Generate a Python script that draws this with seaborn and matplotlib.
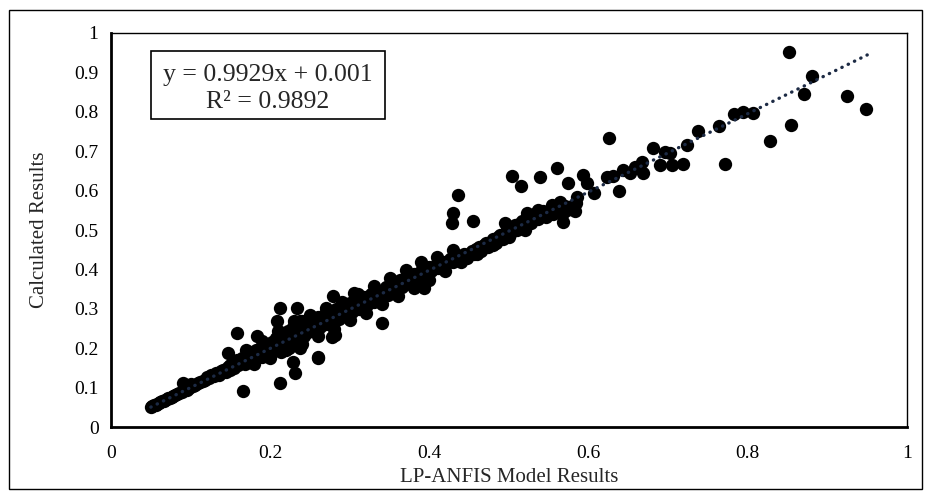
import matplotlib
matplotlib.use("Agg")
import matplotlib.pyplot as plt
import seaborn as sns
import pandas as pd
import numpy as np
from matplotlib.patches import Rectangle

# ---- data ----
x_low = [0.050, 0.052, 0.054, 0.056, 0.058, 0.060, 0.062, 0.064, 0.066, 0.068,
         0.070, 0.072, 0.074, 0.076, 0.078, 0.080, 0.083, 0.086, 0.089, 0.090,
         0.092, 0.095, 0.098, 0.100, 0.103, 0.106, 0.109, 0.112, 0.115, 0.118,
         0.120, 0.123, 0.126, 0.129, 0.132, 0.135, 0.138, 0.141, 0.144, 0.147,
         0.150, 0.150, 0.147]
y_low = [0.052, 0.053, 0.055, 0.057, 0.059, 0.061, 0.063, 0.065, 0.067, 0.069,
         0.071, 0.073, 0.075, 0.077, 0.079, 0.082, 0.084, 0.087, 0.090, 0.113,
         0.093, 0.095, 0.100, 0.108, 0.104, 0.107, 0.111, 0.115, 0.117, 0.120,
         0.128, 0.125, 0.131, 0.130, 0.136, 0.133, 0.141, 0.146, 0.140, 0.152,
         0.158, 0.145, 0.187]

x_mid = [0.153, 0.155, 0.158, 0.160, 0.163, 0.165, 0.168, 0.170, 0.172, 0.175,
         0.178, 0.180, 0.182, 0.185, 0.188, 0.190, 0.192, 0.195, 0.197, 0.200,
         0.202, 0.205, 0.207, 0.210, 0.212, 0.214, 0.216, 0.218, 0.220, 0.222,
         0.224, 0.226, 0.228, 0.230, 0.232, 0.234, 0.236, 0.238, 0.240, 0.242,
         0.244, 0.246, 0.248, 0.250, 0.252, 0.255, 0.258, 0.260, 0.262, 0.265,
         0.268, 0.270, 0.273, 0.276, 0.278, 0.280, 0.283, 0.286, 0.288, 0.291,
         0.294, 0.297, 0.300, 0.303, 0.306, 0.309, 0.312, 0.315, 0.318, 0.321,
         0.324, 0.327, 0.330, 0.333, 0.336, 0.339, 0.342, 0.345, 0.348, 0.351,
         0.354, 0.357, 0.360, 0.363, 0.366, 0.369, 0.372, 0.375, 0.378, 0.381,
         0.384, 0.387, 0.390, 0.393, 0.396, 0.399, 0.402, 0.405, 0.408, 0.411,
         0.414, 0.417, 0.420, 0.423, 0.426, 0.429, 0.432, 0.435, 0.438, 0.441,
         0.444, 0.447, 0.450, 0.453, 0.456, 0.459, 0.462, 0.465, 0.468, 0.471,
         0.474, 0.477, 0.480, 0.483, 0.486, 0.489, 0.492, 0.495, 0.498, 0.501,
         0.504, 0.507, 0.510, 0.513, 0.516, 0.519, 0.522, 0.525, 0.528, 0.531,
         0.534, 0.537, 0.540, 0.543, 0.546, 0.549, 0.552, 0.555, 0.558, 0.561,
         0.564, 0.567, 0.570, 0.573, 0.576, 0.579, 0.583]
y_mid = [0.160, 0.150, 0.170, 0.158, 0.165, 0.175, 0.160, 0.180, 0.168, 0.190,
         0.176, 0.170, 0.195, 0.184, 0.200, 0.178, 0.190, 0.210, 0.186, 0.200,
         0.215, 0.195, 0.225, 0.205, 0.240, 0.190, 0.220, 0.230, 0.210, 0.245,
         0.200, 0.228, 0.255, 0.218, 0.236, 0.260, 0.225, 0.245, 0.270, 0.232,
         0.250, 0.262, 0.240, 0.255, 0.275, 0.248, 0.265, 0.280, 0.255, 0.270,
         0.285, 0.262, 0.278, 0.292, 0.268, 0.285, 0.300, 0.275, 0.290, 0.305,
         0.283, 0.298, 0.315, 0.292, 0.306, 0.322, 0.300, 0.315, 0.330, 0.310,
         0.322, 0.338, 0.318, 0.332, 0.346, 0.326, 0.340, 0.355, 0.335, 0.350,
         0.362, 0.345, 0.358, 0.372, 0.355, 0.366, 0.380, 0.362, 0.375, 0.388,
         0.372, 0.384, 0.395, 0.382, 0.392, 0.405, 0.395, 0.402, 0.412, 0.404,
         0.414, 0.420, 0.412, 0.420, 0.426, 0.418, 0.425, 0.430, 0.423, 0.432,
         0.438, 0.430, 0.440, 0.448, 0.440, 0.452, 0.458, 0.448, 0.462, 0.468,
         0.458, 0.470, 0.478, 0.468, 0.482, 0.488, 0.476, 0.492, 0.500, 0.490,
         0.505, 0.512, 0.500, 0.515, 0.522, 0.510, 0.525, 0.532, 0.518, 0.535,
         0.542, 0.528, 0.540, 0.548, 0.533, 0.545, 0.552, 0.540, 0.550, 0.558,
         0.546, 0.555, 0.562, 0.550, 0.555, 0.560, 0.548]

x_wide = [0.17, 0.19, 0.21, 0.23, 0.25, 0.27, 0.29, 0.31, 0.33, 0.35, 0.37,
          0.39, 0.41, 0.43, 0.18, 0.20, 0.22, 0.24, 0.26, 0.28, 0.30, 0.32,
          0.34, 0.36, 0.38, 0.40, 0.42, 0.44, 0.46, 0.48, 0.50, 0.52]
y_wide = [0.195, 0.218, 0.245, 0.268, 0.285, 0.302, 0.318, 0.338, 0.358, 0.378,
          0.398, 0.418, 0.432, 0.450, 0.160, 0.176, 0.195, 0.212, 0.232, 0.250,
          0.272, 0.290, 0.312, 0.332, 0.352, 0.372, 0.395, 0.418, 0.440, 0.462,
          0.482, 0.500]

x_out = [0.158, 0.166, 0.183, 0.208, 0.212, 0.212, 0.229, 0.231, 0.233, 0.237,
         0.260, 0.260, 0.278, 0.279, 0.281, 0.305, 0.340, 0.393, 0.428, 0.430,
         0.436, 0.455, 0.504, 0.515, 0.539, 0.560, 0.568, 0.568, 0.574, 0.584,
         0.585, 0.593, 0.598, 0.607, 0.623, 0.626, 0.630, 0.638, 0.643, 0.652,
         0.658, 0.667, 0.668, 0.681, 0.690, 0.696, 0.702, 0.705, 0.719, 0.723,
         0.737, 0.764, 0.771, 0.783, 0.794, 0.806, 0.828, 0.852, 0.854, 0.871,
         0.881, 0.925, 0.949, 0.523, 0.536, 0.554, 0.564, 0.495, 0.237]
y_out = [0.239, 0.091, 0.231, 0.269, 0.302, 0.112, 0.165, 0.137, 0.302, 0.200,
         0.175, 0.178, 0.228, 0.332, 0.233, 0.340, 0.264, 0.352, 0.518, 0.543,
         0.589, 0.523, 0.637, 0.612, 0.634, 0.657, 0.521, 0.543, 0.619, 0.569,
         0.584, 0.640, 0.619, 0.594, 0.634, 0.733, 0.638, 0.599, 0.652, 0.645,
         0.660, 0.673, 0.645, 0.708, 0.665, 0.698, 0.695, 0.665, 0.668, 0.716,
         0.751, 0.764, 0.667, 0.794, 0.800, 0.797, 0.726, 0.952, 0.766, 0.845,
         0.891, 0.840, 0.807, 0.543, 0.551, 0.563, 0.571, 0.518, 0.270]

slope = 0.9929
intercept = 0.001
trend_x = [0.05, 0.95]
eq_line1 = "y = 0.9929x + 0.001"
eq_line2 = "R² = 0.9892"
x_ticks = [0, 0.2, 0.4, 0.6, 0.8, 1]
y_ticks = [0, 0.1, 0.2, 0.3, 0.4, 0.5, 0.6, 0.7, 0.8, 0.9, 1]

df = pd.DataFrame({"x": x_low + x_mid + x_wide + x_out,
                   "y": y_low + y_mid + y_wide + y_out})

sns.set_style("white")
plt.rcParams["font.family"] = ["Liberation Serif", "DejaVu Serif"]

fig = plt.figure(figsize=(9.3, 4.96), dpi=100)
ax = fig.add_axes([0.1194, 0.139, 0.8559, 0.7945])

sns.scatterplot(data=df, x="x", y="y", ax=ax, s=92, color="black",
                edgecolor="black", linewidth=0, zorder=2, legend=False)

tx = np.array(trend_x)
ax.plot(tx, slope * tx + intercept, color="#1c2a44", lw=2.4,
        dashes=(0.1, 2.0), dash_capstyle="round", zorder=3)

ax.set_xlim(0, 1)
ax.set_ylim(0, 1)
ax.set_xticks(x_ticks)
ax.set_yticks(y_ticks)
ax.set_xticklabels([f"{t:g}" for t in x_ticks])
ax.set_yticklabels([f"{t:g}" for t in y_ticks])
ax.tick_params(axis="both", direction="out", length=5, width=1.2,
               colors="black", labelsize=14, pad=4)
ax.tick_params(axis="x", pad=8)
ax.set_xlabel("LP-ANFIS Model Results", fontsize=15, labelpad=4)
ax.set_ylabel("Calculated Results", fontsize=15, labelpad=18)

for side in ["top", "right"]:
    ax.spines[side].set_visible(True)
    ax.spines[side].set_linewidth(1.0)
    ax.spines[side].set_color("black")
for side in ["bottom", "left"]:
    ax.spines[side].set_linewidth(2.0)
    ax.spines[side].set_color("black")

ax.add_patch(Rectangle((0.050, 0.782), 0.294, 0.172, transform=ax.transAxes,
                       facecolor="white", edgecolor="black", linewidth=1.2,
                       zorder=5))
ax.text(0.197, 0.893, eq_line1, transform=ax.transAxes, ha="center",
        va="center", fontsize=18.5, zorder=6)
ax.text(0.197, 0.825, eq_line2, transform=ax.transAxes, ha="center",
        va="center", fontsize=18.5, zorder=6)

fig.patches.append(Rectangle((9 / 930, 1 - 489 / 496), 913 / 930, 479 / 496,
                             transform=fig.transFigure, fill=False,
                             edgecolor="black", linewidth=1.0))

fig.savefig("out.png", dpi=100)
